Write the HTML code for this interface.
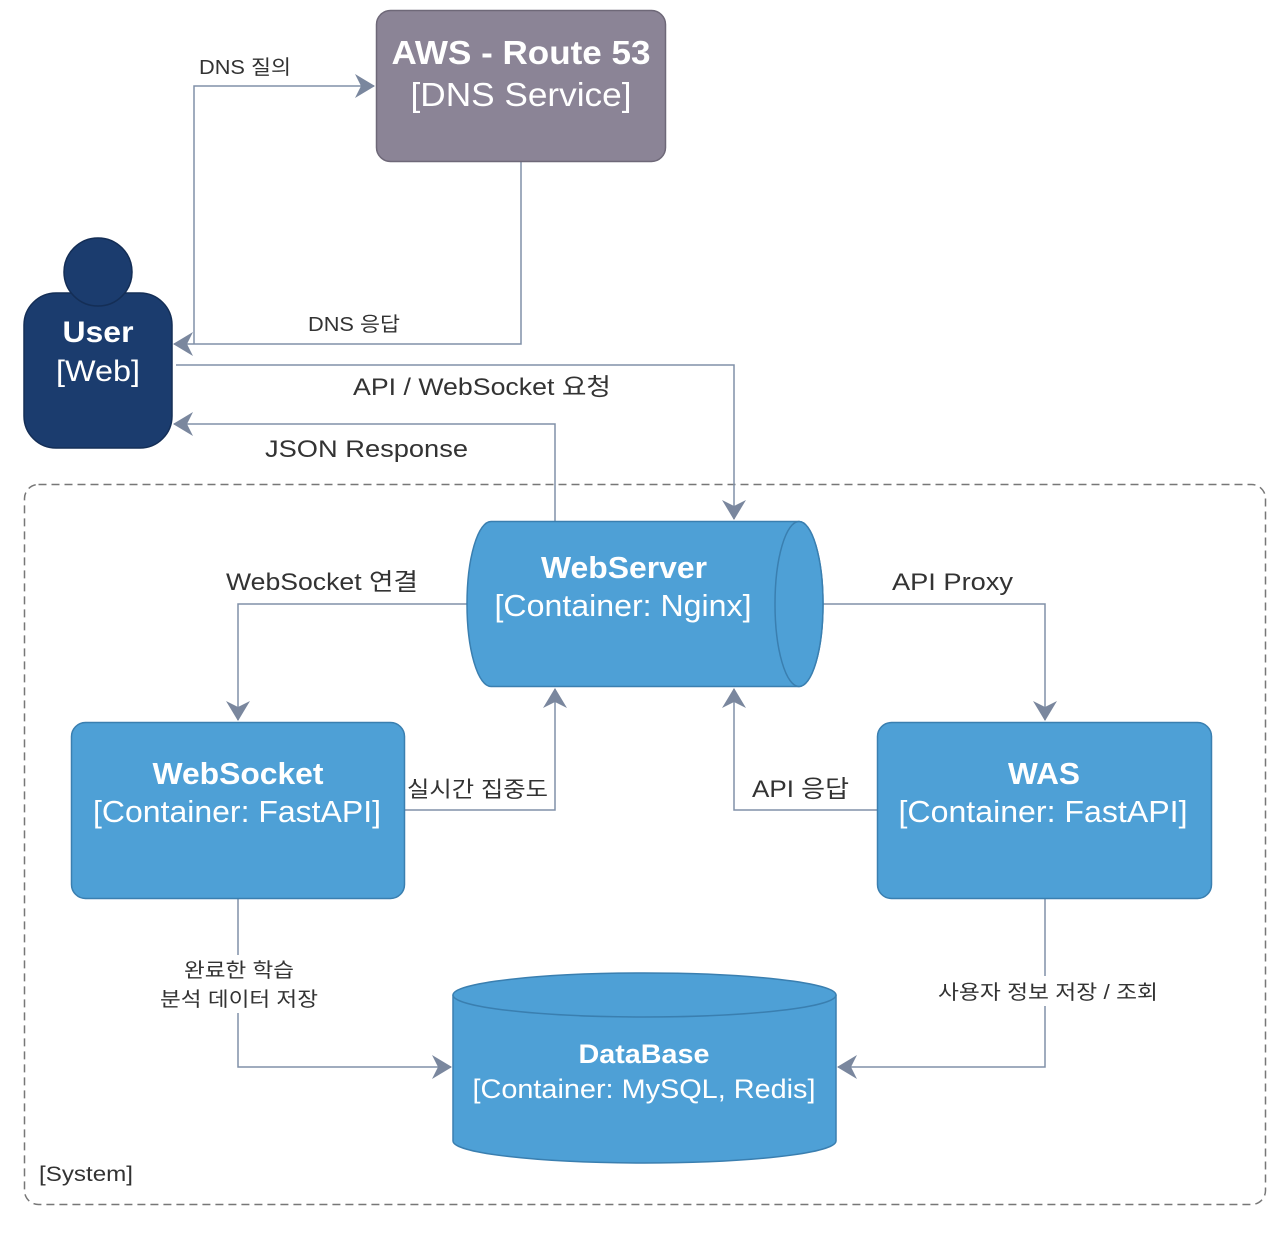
<!DOCTYPE html>
<html><head><meta charset="utf-8"><style>
html,body{margin:0;padding:0;background:#fff}
svg{display:block}
text{font-family:"Liberation Sans","Noto Sans CJK KR",sans-serif}
</style></head><body>
<svg width="1288" height="1234" viewBox="0 0 1288 1234" xmlns="http://www.w3.org/2000/svg">
<defs>
<marker id="a" markerWidth="20" markerHeight="24" refX="19" refY="12" orient="auto" markerUnits="userSpaceOnUse">
<path d="M0,0 L20,12 L0,24 L6,12 Z" fill="#7a879e"/>
</marker>
</defs>
<rect x="24.5" y="484.5" width="1241" height="720" rx="14" fill="none" stroke="#777" stroke-width="1.5" stroke-dasharray="8,5"/>
<text x="39" y="1181" font-size="21" fill="#333" textLength="94" lengthAdjust="spacingAndGlyphs">[System]</text>

<g fill="none" stroke="#8090a8" stroke-width="1.5">
<path d="M194,344 V86 H374" marker-end="url(#a)"/>
<path d="M521,161 V344 H174" marker-end="url(#a)"/>
<path d="M176,365 H734 V519" marker-end="url(#a)"/>
<path d="M555,521 V424 H174" marker-end="url(#a)"/>
<path d="M467,604 H238 V720" marker-end="url(#a)"/>
<path d="M823,604 H1045 V720" marker-end="url(#a)"/>
<path d="M405,810 H555 V689" marker-end="url(#a)"/>
<path d="M877,810 H734 V689" marker-end="url(#a)"/>
<path d="M238,899 V1067 H451" marker-end="url(#a)"/>
<path d="M1045,899 V1067 H838" marker-end="url(#a)"/>
</g>

<rect x="376.5" y="10.5" width="289" height="151" rx="14" fill="#8b8496" stroke="#6e6878" stroke-width="1.5"/>
<text x="521" y="64" font-size="33" font-weight="bold" fill="#fff" text-anchor="middle" textLength="259" lengthAdjust="spacingAndGlyphs">AWS - Route 53</text>
<text x="521" y="106" font-size="33" fill="#fff" text-anchor="middle" textLength="221" lengthAdjust="spacingAndGlyphs">[DNS Service]</text>

<rect x="24" y="293" width="148" height="155" rx="32" fill="#1b3c6e" stroke="#142e56" stroke-width="1.5"/>
<circle cx="98" cy="272" r="34" fill="#1b3c6e" stroke="#142e56" stroke-width="1.5"/>
<text x="98" y="342" font-size="30" font-weight="bold" fill="#fff" text-anchor="middle" textLength="71" lengthAdjust="spacingAndGlyphs">User</text>
<text x="98" y="381" font-size="30" fill="#fff" text-anchor="middle" textLength="84" lengthAdjust="spacingAndGlyphs">[Web]</text>

<path d="M491,521.5 H799 A24,82.5 0 0 1 799,686.5 H491 A24,82.5 0 0 1 491,521.5 Z" fill="#4ea0d6" stroke="#3a7fb0" stroke-width="1.5"/>
<ellipse cx="799" cy="604" rx="24" ry="82.5" fill="#4ea0d6" stroke="#3a7fb0" stroke-width="1.5"/>
<text x="624" y="578" font-size="31" font-weight="bold" fill="#fff" text-anchor="middle" textLength="166" lengthAdjust="spacingAndGlyphs">WebServer</text>
<text x="623" y="616" font-size="31" fill="#fff" text-anchor="middle" textLength="257" lengthAdjust="spacingAndGlyphs">[Container: Nginx]</text>

<rect x="71.5" y="722.5" width="333" height="176" rx="14" fill="#4ea0d6" stroke="#3a7fb0" stroke-width="1.5"/>
<text x="238" y="784" font-size="31" font-weight="bold" fill="#fff" text-anchor="middle" textLength="171" lengthAdjust="spacingAndGlyphs">WebSocket</text>
<text x="237" y="822" font-size="31" fill="#fff" text-anchor="middle" textLength="288" lengthAdjust="spacingAndGlyphs">[Container: FastAPI]</text>

<rect x="877.5" y="722.5" width="334" height="176" rx="14" fill="#4ea0d6" stroke="#3a7fb0" stroke-width="1.5"/>
<text x="1044" y="784" font-size="31" font-weight="bold" fill="#fff" text-anchor="middle" textLength="72" lengthAdjust="spacingAndGlyphs">WAS</text>
<text x="1043" y="822" font-size="31" fill="#fff" text-anchor="middle" textLength="289" lengthAdjust="spacingAndGlyphs">[Container: FastAPI]</text>

<path d="M453,995 V1141 A191.5,22 0 0 0 836,1141 V995" fill="#4ea0d6" stroke="#3a7fb0" stroke-width="1.5"/>
<ellipse cx="644.5" cy="995" rx="191.5" ry="22" fill="#4ea0d6" stroke="#3a7fb0" stroke-width="1.5"/>
<text x="644" y="1063" font-size="27" font-weight="bold" fill="#fff" text-anchor="middle" textLength="131" lengthAdjust="spacingAndGlyphs">DataBase</text>
<text x="644" y="1098" font-size="27" fill="#fff" text-anchor="middle" textLength="343" lengthAdjust="spacingAndGlyphs">[Container: MySQL, Redis]</text>

<g fill="#333">
<text x="199" y="74" font-size="20" textLength="92" lengthAdjust="spacingAndGlyphs">DNS 질의</text>
<text x="308" y="331" font-size="20" textLength="92" lengthAdjust="spacingAndGlyphs">DNS 응답</text>
<text x="353" y="395" font-size="24" textLength="258" lengthAdjust="spacingAndGlyphs">API / WebSocket 요청</text>
<text x="265" y="457" font-size="24" textLength="203" lengthAdjust="spacingAndGlyphs">JSON Response</text>
<text x="226" y="590" font-size="24" textLength="192" lengthAdjust="spacingAndGlyphs">WebSocket 연결</text>
<text x="892" y="590" font-size="24" textLength="121" lengthAdjust="spacingAndGlyphs">API Proxy</text>
<text x="407" y="797" font-size="22" textLength="141" lengthAdjust="spacingAndGlyphs">실시간 집중도</text>
<text x="752" y="797" font-size="24" textLength="97" lengthAdjust="spacingAndGlyphs">API 응답</text>
</g>
<rect x="155" y="955" width="166" height="58" fill="#fff"/>
<text x="239" y="977" font-size="20" fill="#333" text-anchor="middle" textLength="110" lengthAdjust="spacingAndGlyphs">완료한 학습</text>
<text x="239" y="1006" font-size="20" fill="#333" text-anchor="middle" textLength="158" lengthAdjust="spacingAndGlyphs">분석 데이터 저장</text>
<rect x="932" y="976" width="230" height="30" fill="#fff"/>
<text x="1048" y="999" font-size="20" fill="#333" text-anchor="middle" textLength="220" lengthAdjust="spacingAndGlyphs">사용자 정보 저장 / 조회</text>
</svg>
</body></html>
